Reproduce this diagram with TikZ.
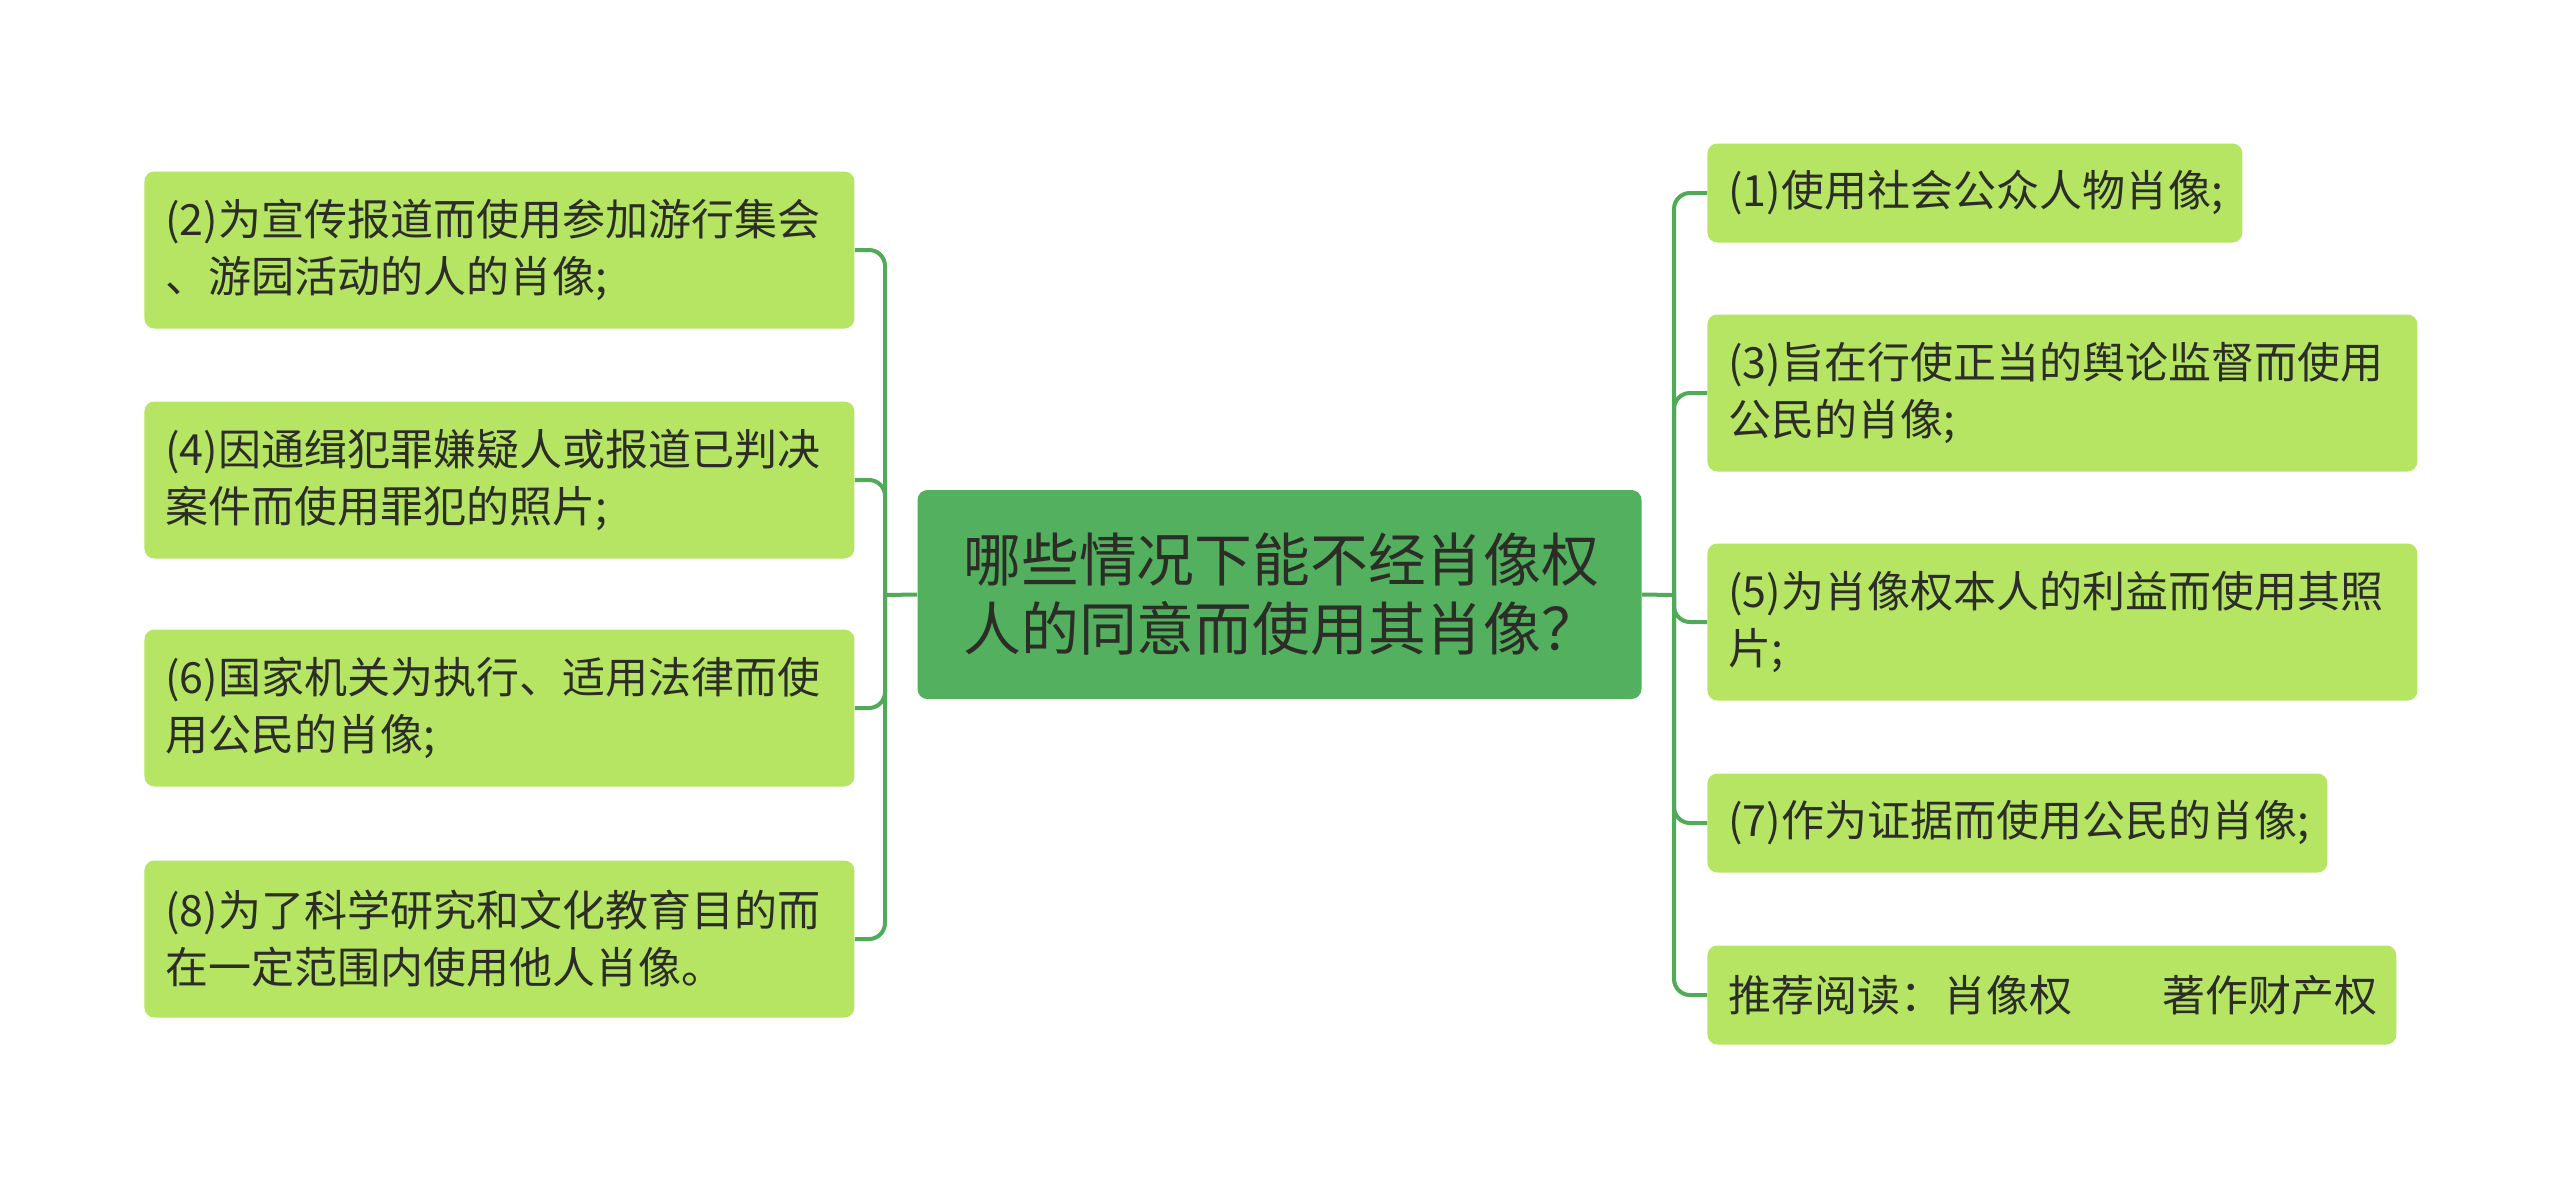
\documentclass[tikz,border=0pt]{standalone}
\usepackage{fontspec}
\setmainfont{Noto Sans CJK SC}
\usepackage{tikz}
\usetikzlibrary{positioning,calc}

\definecolor{rootgreen}{RGB}{82,176,94}
\definecolor{leafgreen}{RGB}{181,229,98}
\definecolor{linegreen}{RGB}{80,170,88}
\definecolor{txt}{RGB}{45,45,40}

\begin{document}
\begin{tikzpicture}[
    x=0.5pt, y=-0.5pt,
    root/.style={fill=rootgreen, rounded corners=5pt, inner xsep=23pt, text width=316pt, minimum height=104.5pt, align=left, text=txt, font=\fontsize{28.9}{34.5}\selectfont},
    leaf/.style={fill=leafgreen, rounded corners=5pt, inner xsep=10.5pt, text width=#1, minimum height=49.5pt, align=left, text=txt, font=\fontsize{21.5}{28.5}\selectfont},
    tall/.style={minimum height=78.5pt},
    link/.style={draw=linegreen, line width=2pt},
    branch/.style={link, rounded corners=8pt}
]

    \fill [white] (0,0) rectangle (2560,1189);
    \useasboundingbox (0,0) rectangle (2560,1189);

    \node [root] (root) at (1279.5,594.5) {哪些情况下能不经肖像权\\人的同意而使用其肖像？};

    % left side
    \node [leaf=334pt, tall, anchor=west] (l2) at (144,250) {(2)为宣传报道而使用参加游行集会\\、游园活动的人的肖像;};
    \node [leaf=334pt, tall, anchor=west] (l4) at (144,480) {(4)因通缉犯罪嫌疑人或报道已判决\\案件而使用罪犯的照片;};
    \node [leaf=334pt, tall, anchor=west] (l6) at (144,708) {(6)国家机关为执行、适用法律而使\\用公民的肖像;};
    \node [leaf=334pt, tall, anchor=west] (l8) at (144,939) {(8)为了科学研究和文化教育目的而\\在一定范围内使用他人肖像。};

    % right side
    \node [leaf=246.5pt, anchor=west] (r1) at (1707,193) {(1)使用社会公众人物肖像;};
    \node [leaf=334pt, tall, anchor=west] (r3) at (1707,393) {(3)旨在行使正当的舆论监督而使用\\公民的肖像;};
    \node [leaf=334pt, tall, anchor=west] (r5) at (1707,622) {(5)为肖像权本人的利益而使用其照\\片;};
    \node [leaf=289pt, anchor=west] (r7) at (1707,823) {(7)作为证据而使用公民的肖像;};
    \node [leaf=323.5pt, anchor=west] (read) at (1707,995) {\mbox{推荐阅读：肖像权\hspace{2.1em}著作财产权}};

    \coordinate (ltrunk) at (885,595);
    \coordinate (rtrunk) at (1674,595);

    \draw [link] (root.west) -- (ltrunk);
    \draw [branch] (ltrunk) |- (l2.east);
    \draw [branch] (ltrunk) |- (l4.east);
    \draw [branch] (ltrunk) |- (l6.east);
    \draw [branch] (ltrunk) |- (l8.east);

    \draw [link] (root.east) -- (rtrunk);
    \draw [branch] (rtrunk) |- (r1.west);
    \draw [branch] (rtrunk) |- (r3.west);
    \draw [branch] (rtrunk) |- (r5.west);
    \draw [branch] (rtrunk) |- (r7.west);
    \draw [branch] (rtrunk) |- (read.west);

\end{tikzpicture}
\end{document}
